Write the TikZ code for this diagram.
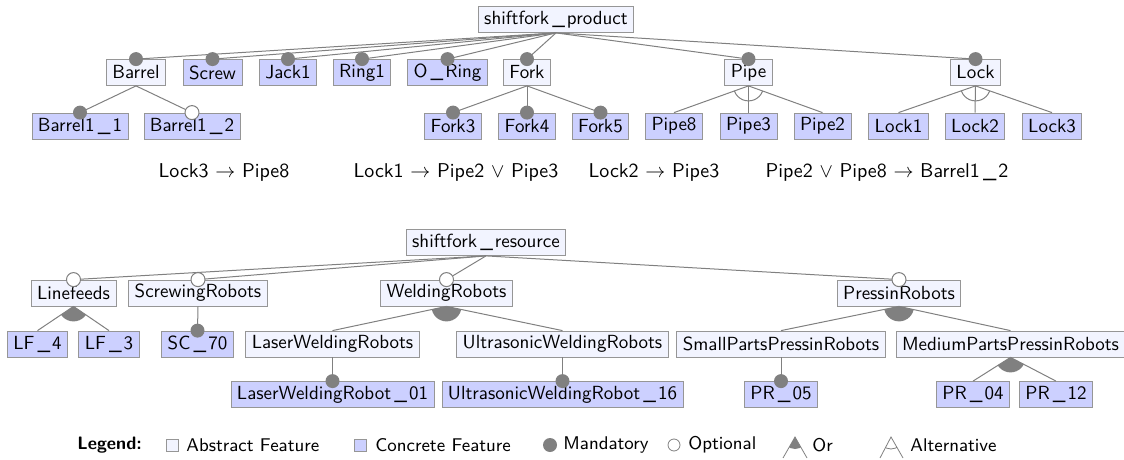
\documentclass[tikz,border=0pt]{standalone}
\renewcommand{\familydefault}{\sfdefault}
\usepackage{tikz}
\usetikzlibrary{arrows}
\definecolor{abstractfill}{RGB}{242,244,255}
\definecolor{concretefill}{RGB}{204,208,255}
\definecolor{boxgray}{RGB}{150,150,150}
\definecolor{dotgray}{RGB}{128,128,128}
\newcommand{\us}{\kern1.6pt\textunderscore\kern1pt}
\tikzstyle{abstract} = [draw=boxgray,fill=abstractfill,rectangle,minimum height=13pt,inner xsep=3pt,inner ysep=0pt,text centered,font=\fontsize{9.5}{11}\selectfont]
\tikzstyle{concrete} = [abstract,fill=concretefill]
\tikzstyle{edge} = [draw=dotgray,line width=0.5pt]
\tikzstyle{constraint} = [align=center,text centered]
\tikzstyle{legtext} = [anchor=west,inner sep=0pt,font=\fontsize{9.2}{11}\selectfont]
\newcommand{\mand}[1]{\fill[dotgray] (#1.north) circle (3.5pt);}
\newcommand{\opt}[1]{\filldraw[draw=dotgray,fill=white,line width=0.5pt] (#1.north) circle (3.5pt);}
\newcommand{\orgroup}[3]{\begin{scope}\clip (#1.south) -- (#2.north) -- (#3.north) -- cycle;
  \fill[dotgray] (#1.south) circle (7.5pt);\end{scope}}
\newcommand{\altgroup}[3]{\begin{scope}\clip (#1.south) -- (#2.north) -- (#3.north) -- cycle;
  \draw[edge] (#1.south) circle (7.5pt);\end{scope}}
\begin{document}
\begin{tikzpicture}[x=0.5pt,y=-0.5pt]
\useasboundingbox (0,0) rectangle (1124,460);
% product model
\node (prod) [abstract] at (556,19.5) {shiftfork\us product};
\node (barrel) [abstract] at (136,72.5) {Barrel};
\node (screw) [concrete] at (212.5,72.5) {Screw};
\node (jack) [concrete] at (288,72.5) {Jack1};
\node (ring) [concrete] at (362,72.5) {Ring1};
\node (oring) [concrete] at (447.5,72.5) {O\us Ring};
\node (fork) [abstract] at (527,72.5) {Fork};
\node (pipe) [abstract] at (748.5,72.5) {Pipe};
\node (lock) [abstract] at (975.5,72.5) {Lock};
\node (barrelA) [concrete] at (80,126) {Barrel1\us 1};
\node (barrelB) [concrete] at (192,126) {Barrel1\us 2};
\node (forkA) [concrete] at (453,126) {Fork3};
\node (forkB) [concrete] at (527,126) {Fork4};
\node (forkC) [concrete] at (600.5,126) {Fork5};
\node (pipeA) [concrete] at (674,126) {Pipe8};
\node (pipeB) [concrete] at (748.5,126) {Pipe3};
\node (pipeC) [concrete] at (822.5,126) {Pipe2};
\node (lockA) [concrete] at (898.5,126) {Lock1};
\node (lockB) [concrete] at (975,126) {Lock2};
\node (lockC) [concrete] at (1052,126) {Lock3};
\draw [edge] (prod.south) -- (barrel.north);
\draw [edge] (prod.south) -- (screw.north);
\draw [edge] (prod.south) -- (jack.north);
\draw [edge] (prod.south) -- (ring.north);
\draw [edge] (prod.south) -- (oring.north);
\draw [edge] (prod.south) -- (fork.north);
\draw [edge] (prod.south) -- (pipe.north);
\draw [edge] (prod.south) -- (lock.north);
\draw [edge] (barrel.south) -- (barrelA.north);
\draw [edge] (barrel.south) -- (barrelB.north);
\draw [edge] (fork.south) -- (forkA.north);
\draw [edge] (fork.south) -- (forkB.north);
\draw [edge] (fork.south) -- (forkC.north);
\draw [edge] (pipe.south) -- (pipeA.north);
\draw [edge] (pipe.south) -- (pipeB.north);
\draw [edge] (pipe.south) -- (pipeC.north);
\draw [edge] (lock.south) -- (lockA.north);
\draw [edge] (lock.south) -- (lockB.north);
\draw [edge] (lock.south) -- (lockC.north);
\mand{barrel} \mand{screw} \mand{jack} \mand{ring} \mand{oring} \mand{fork} \mand{pipe} \mand{lock}
\mand{barrelA} \opt{barrelB} \mand{forkA} \mand{forkB} \mand{forkC}
\altgroup{pipe}{pipeA}{pipeC}
\altgroup{lock}{lockA}{lockC}
% constraints
\node (ctA) [constraint] at (224,172) {Lock3 $\rightarrow$ Pipe8};
\node (ctB) [constraint] at (456,172) {Lock1 $\rightarrow$ Pipe2 $\vee$ Pipe3};
\node (ctC) [constraint] at (654,172) {Lock2 $\rightarrow$ Pipe3};
\node (ctD) [constraint] at (887,172) {Pipe2 $\vee$ Pipe8 $\rightarrow$ Barrel1\us 2};
% resource model
\node (res) [abstract] at (486,242.5) {shiftfork\us resource};
\node (lf) [abstract] at (73.5,293) {Linefeeds};
\node (scr) [abstract] at (198,293) {ScrewingRobots};
\node (weld) [abstract] at (446.5,293) {WeldingRobots};
\node (press) [abstract] at (899,293) {PressinRobots};
\node (lfA) [concrete] at (37.5,344) {LF\us 4};
\node (lfB) [concrete] at (109,344) {LF\us 3};
\node (sc) [concrete] at (197.5,344) {SC\us 70};
\node (lwr) [abstract] at (332.5,344) {LaserWeldingRobots};
\node (uwr) [abstract] at (562.5,344) {UltrasonicWeldingRobots};
\node (sppr) [abstract] at (781,344) {SmallPartsPressinRobots};
\node (mppr) [abstract] at (1010.5,344) {MediumPartsPressinRobots};
\node (lwA) [concrete] at (332.5,394.5) {LaserWeldingRobot\us 01};
\node (uwA) [concrete] at (562.5,394.5) {UltrasonicWeldingRobot\us 16};
\node (prA) [concrete] at (781,394.5) {PR\us 05};
\node (prB) [concrete] at (973,394.5) {PR\us 04};
\node (prC) [concrete] at (1056,394.5) {PR\us 12};
\draw [edge] (res.south) -- (lf.north);
\draw [edge] (res.south) -- (scr.north);
\draw [edge] (res.south) -- (weld.north);
\draw [edge] (res.south) -- (press.north);
\draw [edge] (lf.south) -- (lfA.north);
\draw [edge] (lf.south) -- (lfB.north);
\draw [edge] (scr.south) -- (sc.north);
\draw [edge] (weld.south) -- (lwr.north);
\draw [edge] (weld.south) -- (uwr.north);
\draw [edge] (press.south) -- (sppr.north);
\draw [edge] (press.south) -- (mppr.north);
\draw [edge] (lwr.south) -- (lwA.north);
\draw [edge] (uwr.south) -- (uwA.north);
\draw [edge] (sppr.south) -- (prA.north);
\draw [edge] (mppr.south) -- (prB.north);
\draw [edge] (mppr.south) -- (prC.north);
\opt{lf} \opt{scr} \opt{weld} \opt{press}
\mand{sc} \mand{lwA} \mand{uwA} \mand{prA}
\orgroup{lf}{lfA}{lfB}
\orgroup{weld}{lwr}{uwr}
\orgroup{press}{sppr}{mppr}
\orgroup{mppr}{prB}{prC}
% legend
\node (leg) [anchor=west,inner sep=0pt,font=\fontsize{9}{11}\selectfont\bfseries] at (77,445) {Legend:};
\node (legA) [draw=boxgray,fill=abstractfill,inner sep=0pt,minimum size=6pt] at (172,445) {};
\node (legAt) [legtext] at (186,445) {Abstract Feature};
\node (legC) [draw=boxgray,fill=concretefill,inner sep=0pt,minimum size=6pt] at (360,445) {};
\node (legCt) [legtext] at (375,445) {Concrete Feature};
\node (legM) [circle,fill=dotgray,inner sep=0pt,minimum size=7pt] at (550,445) {};
\node (legMt) [legtext] at (563,445) {Mandatory};
\node (legO) [circle,draw=dotgray,fill=white,inner sep=0pt,minimum size=6pt] at (674,445) {};
\node (legOt) [legtext] at (688,445) {Optional};
\coordinate (orTop) at (795,437);
\coordinate (orL) at (783,458);
\coordinate (orR) at (807,458);
\begin{scope}\clip (orTop) -- (orL) -- (orR) -- cycle;
  \fill[dotgray] (orTop) circle (6pt);\end{scope}
\draw [edge,line width=0.4pt] (orL) -- (orTop) -- (orR);
\node (legOrt) [legtext] at (812,445) {Or};
\coordinate (altTop) at (891,437);
\coordinate (altL) at (880,458);
\coordinate (altR) at (903,458);
\begin{scope}\clip (altTop) -- (altL) -- (altR) -- cycle;
  \draw[edge,line width=0.4pt] (altTop) circle (6pt);\end{scope}
\draw [edge,line width=0.4pt] (altL) -- (altTop) -- (altR);
\node (legAltt) [legtext] at (910,445) {Alternative};
\end{tikzpicture}
\end{document}
